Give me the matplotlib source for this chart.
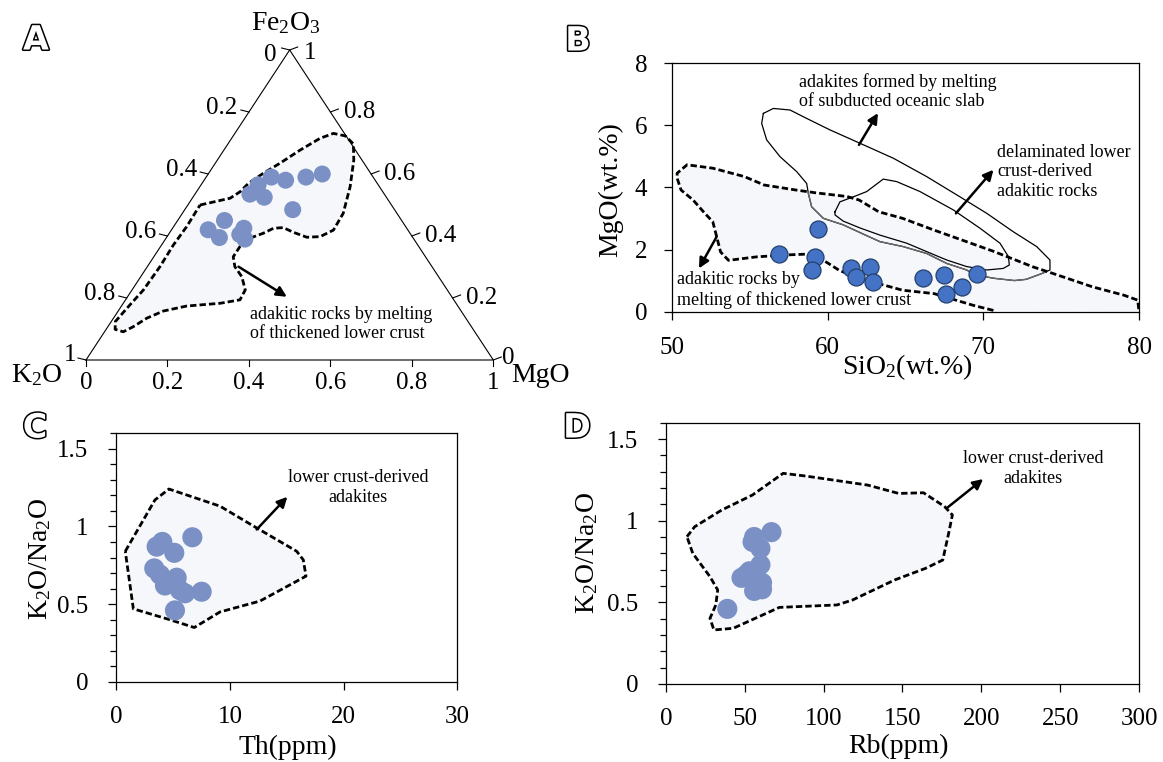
import numpy as np
import matplotlib
matplotlib.use("Agg")
import matplotlib.pyplot as plt
import matplotlib.patheffects as pe
from matplotlib.patches import Polygon

plt.rcParams["font.family"] = ["Liberation Serif", "DejaVu Serif"]
plt.rcParams["mathtext.fontset"] = "custom"
plt.rcParams["mathtext.rm"] = "Liberation Serif"
plt.rcParams["mathtext.it"] = "Liberation Serif:italic"
plt.rcParams["mathtext.default"] = "regular"

# ---------------- data ----------------
# (A) K2O - Fe2O3 - MgO ternary, sample proportions
tern_k2o = [0.120, 0.165, 0.220, 0.250, 0.295, 0.330, 0.300, 0.250, 0.435, 0.490, 0.475, 0.400, 0.420, 0.415]
tern_fe2o3 = [0.600, 0.590, 0.580, 0.590, 0.565, 0.535, 0.525, 0.485, 0.450, 0.420, 0.395, 0.425, 0.405, 0.390]
tern_mgo = [0.280, 0.245, 0.200, 0.160, 0.140, 0.135, 0.175, 0.265, 0.115, 0.090, 0.130, 0.175, 0.175, 0.195]

# field of adakitic rocks from thickened lower crust (Fe2O3, MgO fractions)
env_a_fe2o3 = [0.500, 0.522, 0.543, 0.570, 0.602, 0.635, 0.677, 0.715, 0.731, 0.723, 0.697,
               0.645, 0.559, 0.473, 0.419, 0.398, 0.396, 0.412, 0.427, 0.425, 0.409, 0.393,
               0.366, 0.333, 0.301, 0.269, 0.226, 0.194, 0.183, 0.174, 0.158, 0.135, 0.107,
               0.091, 0.099, 0.124, 0.167, 0.226, 0.301, 0.371, 0.430]
env_a_mgo = [0.030, 0.093, 0.107, 0.114, 0.134, 0.159, 0.187, 0.217, 0.242, 0.275, 0.308,
             0.335, 0.369, 0.395, 0.398, 0.376, 0.344, 0.303, 0.271, 0.248, 0.231, 0.206,
             0.195, 0.195, 0.215, 0.248, 0.278, 0.281, 0.238, 0.160, 0.111, 0.082, 0.062,
             0.046, 0.022, 0.010, 0.017, 0.028, 0.031, 0.029, 0.032]

# (B) SiO2 vs MgO (wt.%)
sio2 = [56.9, 59.4, 59.2, 59.0, 61.5, 62.7, 61.8, 62.9, 66.1, 67.5, 69.6, 68.6, 67.6]
mgo = [1.85, 2.67, 1.76, 1.34, 1.42, 1.46, 1.13, 0.97, 1.10, 1.20, 1.22, 0.81, 0.59]

# thickened lower crust field
env_b_sio2 = [70.65, 69.38, 66.84, 64.81, 63.28, 61.76, 60.74, 59.73, 58.71, 57.19, 55.41,
              53.63, 53.12, 52.87, 52.62, 52.11, 51.35, 50.58, 50.33, 50.33, 50.97, 52.62,
              54.65, 55.92, 57.95, 59.22, 61.25, 62.01, 63.28, 64.81, 66.84, 68.36, 70.65,
              73.19, 74.46, 77.00, 79.03, 79.92, 80.00]
env_b_mgo = [0.05, 0.21, 0.59, 0.70, 0.91, 1.13, 1.34, 1.66, 1.86, 1.83, 1.77,
             1.66, 1.93, 2.42, 2.90, 3.17, 3.60, 3.92, 4.30, 4.46, 4.73, 4.62,
             4.35, 4.08, 3.92, 3.83, 3.71, 3.60, 3.22, 3.01, 2.63, 2.36, 1.95,
             1.45, 1.24, 0.81, 0.54, 0.38, 0.00]

# subducted oceanic slab adakite field
slab_sio2 = [55.87, 56.51, 57.58, 58.65, 60.15, 62.08, 64.22, 66.36, 68.50, 70.22, 71.92, 73.43,
             74.28, 74.28, 73.78, 72.76, 72.00, 70.73, 69.46, 68.93, 67.65, 66.36, 64.86, 63.36,
             62.30, 61.00, 59.72, 58.97, 58.76, 58.65, 58.01, 56.94, 56.08, 55.76]
slab_mgo = [6.38, 6.54, 6.49, 6.22, 5.85, 5.42, 4.94, 4.35, 3.70, 3.17, 2.58, 2.10,
            1.67, 1.35, 1.24, 1.05, 1.01, 1.08, 1.19, 1.35, 1.56, 1.88, 2.10, 2.26,
            2.50, 2.80, 3.01, 3.38, 3.81, 4.13, 4.51, 4.99, 5.53, 6.06]

# delaminated lower crust-derived adakitic rocks field
delam_sio2 = [60.47, 60.79, 61.65, 62.51, 63.57, 64.43, 65.93, 68.07, 69.79, 71.07, 71.61,
              71.67, 71.28, 70.22, 68.93, 67.65, 66.36, 65.08, 63.36, 62.08, 61.00, 60.47]
delam_mgo = [3.22, 3.54, 3.70, 3.87, 4.27, 4.19, 3.87, 3.28, 2.69, 2.21, 1.78,
             1.51, 1.40, 1.35, 1.46, 1.67, 1.94, 2.21, 2.47, 2.70, 2.92, 3.12]

# (C, D) K2O/Na2O vs Th and Rb (ppm)
k2o_na2o = [0.90, 0.87, 0.83, 0.93, 0.73, 0.69, 0.65, 0.62, 0.67, 0.59, 0.57, 0.58, 0.46]
th = [4.05, 3.55, 5.10, 6.69, 3.34, 3.84, 4.34, 4.28, 5.31, 5.60, 6.04, 7.51, 5.16]
rb = [56.0, 55.0, 60.0, 67.0, 60.0, 53.0, 48.0, 61.0, 51.0, 58.0, 56.0, 61.0, 39.0]

env_c_th = [0.79, 3.40, 4.63, 9.12, 12.35, 15.87, 16.45, 16.69, 12.64, 9.12, 6.86, 4.72, 1.50]
env_c_ratio = [0.84, 1.17, 1.24, 1.13, 0.99, 0.84, 0.785, 0.68, 0.52, 0.45, 0.35, 0.40, 0.47]

env_d_rb = [13.4, 18.3, 35.4, 54.9, 74.4, 89.0, 128.0, 147.6, 163.4, 176.8, 181.7, 179.3, 175.6,
            164.6, 145.1, 118.3, 108.5, 72.0, 42.7, 30.5, 28.0, 31.7, 32.9, 28.0, 17.1]
env_d_ratio = [0.902, 0.963, 1.065, 1.157, 1.290, 1.273, 1.218, 1.167, 1.171, 1.086, 1.035, 0.922,
               0.759, 0.708, 0.637, 0.514, 0.484, 0.469, 0.341, 0.331, 0.402, 0.484, 0.576, 0.657, 0.80]

ternary_ticks = [0, 0.2, 0.4, 0.6, 0.8, 1]

# ---------------- styles ----------------
FILL = "#F5F7FB"
PALE_DOT = "#7B90C4"
DOT_B = "#4472C4"
DOT_B_EDGE = "#23406F"
DASH = dict(color="black", lw=2.0, linestyle=(0, (2.3, 1.1)), solid_capstyle="butt")
ARROW = dict(arrowstyle="-|>", color="black", lw=1.8, mutation_scale=15, shrinkA=0, shrinkB=0)
TICK_FS = 18
LABEL_FS = 20
NOTE_FS = 13

W, H = 1163, 762
fig = plt.figure(figsize=(W / 100, H / 100), dpi=100)


def add_axes_px(left, top, right, bottom):
    return fig.add_axes([left / W, 1 - bottom / H, (right - left) / W, (bottom - top) / H])


def panel_letter(x, y, s):
    fig.text(x / W, 1 - y / H, s, ha="center", va="center", fontsize=24,
             family="DejaVu Sans", weight="bold", color="white",
             path_effects=[pe.withStroke(linewidth=2.2, foreground="black")])


# ---------------- (A) ternary ----------------
axA = add_axes_px(0, 0, 560, 400)
axA.set_axis_off()
x0, x1, base, apex = 86.0, 493.3, 360.0, 50.0
sx, sy = x1 - x0, base - apex
axA.set_xlim(-x0 / sx, (560 - x0) / sx)
axA.set_ylim((base - 400) / sy, base / sy)


def tern_xy(k, f, m):
    k, f, m = (np.asarray(v, dtype=float) for v in (k, f, m))
    tot = k + f + m
    f, m = f / tot, m / tot
    return m + 0.5 * f, f


axA.plot([0, 1, 0.5, 0], [0, 0, 1, 0], color="black", lw=0.8, zorder=2)

ea_f = np.asarray(env_a_fe2o3)
ea_m = np.asarray(env_a_mgo)
ex, ey = tern_xy(1 - ea_f - ea_m, ea_f, ea_m)
axA.fill(ex, ey, facecolor=FILL, edgecolor="none", zorder=1)
axA.plot(np.r_[ex, ex[0]], np.r_[ey, ey[0]], zorder=3, **DASH)

px, py = tern_xy(tern_k2o, tern_fe2o3, tern_mgo)
axA.scatter(px, py, s=150, color=PALE_DOT, edgecolors="none", zorder=4)

for t in ternary_ticks:
    lab = f"{t:g}"
    # bottom edge: MgO
    bx, by = tern_xy(1 - t, 0, t)
    axA.plot([bx, bx], [by, by - 6 / sy], color="black", lw=0.8)
    axA.annotate(lab, (bx, by), xytext=(0, -23), textcoords="offset pixels",
                 ha="center", va="center", fontsize=TICK_FS)
    # left edge: K2O
    lx, ly = tern_xy(t, 1 - t, 0)
    axA.plot([lx, lx - 8 / sx], [ly, ly + 2 / sy], color="black", lw=0.8)
    off = {0: (-19, -5), 1: (-16, 5)}.get(t, (-27, 4))
    axA.annotate(lab, (lx, ly), xytext=off, textcoords="offset pixels",
                 ha="center", va="center", fontsize=TICK_FS)
    # right edge: Fe2O3
    rx, ry = tern_xy(0, t, 1 - t)
    axA.plot([rx, rx + 8 / sx], [ry, ry + 3 / sy], color="black", lw=0.8)
    off = {1: (20, -3), 0: (15, 2)}.get(t, (29, 0))
    axA.annotate(lab, (rx, ry), xytext=off, textcoords="offset pixels",
                 ha="center", va="center", fontsize=TICK_FS)

axA.annotate("Fe$_2$O$_3$", tern_xy(0, 1, 0), xytext=(-4, 27), textcoords="offset pixels",
             ha="center", va="center", fontsize=LABEL_FS)
axA.annotate("K$_2$O", tern_xy(1, 0, 0), xytext=(-49, -15), textcoords="offset pixels",
             ha="center", va="center", fontsize=LABEL_FS)
axA.annotate("MgO", tern_xy(0, 0, 1), xytext=(47, -15), textcoords="offset pixels",
             ha="center", va="center", fontsize=LABEL_FS)

axA.annotate("", xy=tern_xy(0.405, 0.204, 0.391), xytext=tern_xy(0.475, 0.301, 0.224),
             arrowprops=ARROW, zorder=5)
tx, ty = tern_xy(0.539, 0.116, 0.345)
axA.text(tx, ty, "adakitic rocks by melting\nof thickened lower crust", ha="left", va="center",
         fontsize=NOTE_FS)


def style_axes(ax, ypad=14, xpad=11):
    for sp in ax.spines.values():
        sp.set_linewidth(0.9)
    ax.tick_params(which="major", direction="out", length=6, width=0.9, labelsize=TICK_FS)
    ax.tick_params(axis="y", which="both", pad=ypad)
    ax.tick_params(axis="x", which="both", pad=xpad)
    ax.tick_params(which="minor", direction="out", length=4.5, width=0.9)


# ---------------- (B) SiO2 - MgO ----------------
axB = add_axes_px(672, 63, 1139, 312)
axB.set_xlim(50, 80)
axB.set_ylim(0, 8)
axB.set_xticks([50, 60, 70, 80])
axB.set_yticks([0, 2, 4, 6, 8])
style_axes(axB, ypad=12, xpad=12)
axB.fill(env_b_sio2, env_b_mgo, facecolor=FILL, edgecolor="none", zorder=1)
slab_x = slab_sio2 + slab_sio2[:1]
slab_y = slab_mgo + slab_mgo[:1]
axB.plot(slab_x, slab_y, color="black", lw=0.9, zorder=2)
# the slab outline reads grey where it runs through the thickened-crust field
env_b_patch = Polygon(np.column_stack([env_b_sio2, env_b_mgo]), closed=True,
                      transform=axB.transData, facecolor="none", edgecolor="none")
axB.add_patch(env_b_patch)
grey_part, = axB.plot(slab_x, slab_y, color="#6A6A6A", lw=1.0, zorder=2.1)
grey_part.set_clip_path(env_b_patch)
axB.plot(delam_sio2 + delam_sio2[:1], delam_mgo + delam_mgo[:1], color="black", lw=0.9, zorder=2.2)
axB.plot(env_b_sio2, env_b_mgo, zorder=3, clip_on=False, **DASH)
axB.scatter(sio2, mgo, s=150, color=DOT_B, edgecolors=DOT_B_EDGE, linewidths=0.9, zorder=5)
axB.set_xlabel("SiO$_2$(wt.%)", fontsize=LABEL_FS)
axB.set_ylabel("MgO(wt.%)", fontsize=LABEL_FS)
axB.xaxis.label.set_verticalalignment("center")
axB.yaxis.label.set_verticalalignment("center")
axB.xaxis.set_label_coords(0.505, -0.221)
axB.yaxis.set_label_coords(-0.131, 0.49)

axB.text(58.16, 7.08, "adakites formed by melting\nof subducted oceanic slab", ha="left", va="center",
         fontsize=NOTE_FS)
axB.annotate("", xy=(63.23, 6.39), xytext=(62.01, 5.37), arrowprops=ARROW, zorder=6)
axB.text(70.88, 4.50, "delaminated lower\ncrust-derived\nadakitic rocks", ha="left", va="center",
         fontsize=NOTE_FS)
axB.annotate("", xy=(70.65, 4.57), xytext=(68.24, 3.17), arrowprops=ARROW, zorder=6)
axB.text(50.32, 0.707, "adakitic rocks by\nmelting of thickened lower crust", ha="left", va="center",
         fontsize=NOTE_FS, zorder=6)
axB.annotate("", xy=(51.73, 1.40), xytext=(52.87, 2.42), arrowprops=ARROW, zorder=6)


# ---------------- (C) Th - K2O/Na2O ----------------
def ratio_axes(ax):
    ax.set_ylim(0, 1.6)
    ax.set_yticks([0, 0.5, 1, 1.5])
    ax.set_yticklabels(["0", "0.5", "1", "1.5"])
    ax.set_yticks(np.arange(0, 1.61, 0.1), minor=True)
    style_axes(ax)
    ax.set_ylabel("K$_2$O/Na$_2$O", fontsize=LABEL_FS)
    ax.xaxis.label.set_verticalalignment("center")
    ax.yaxis.label.set_verticalalignment("center")


axC = add_axes_px(116.3, 433, 457.3, 682)
axC.set_xlim(0, 30)
axC.set_xticks([0, 10, 20, 30])
ratio_axes(axC)
axC.fill(env_c_th, env_c_ratio, facecolor=FILL, edgecolor="none", zorder=1)
axC.plot(env_c_th + env_c_th[:1], env_c_ratio + env_c_ratio[:1], zorder=3, **DASH)
axC.scatter(th, k2o_na2o, s=210, color=PALE_DOT, edgecolors="none", zorder=5)
axC.set_xlabel("Th(ppm)", fontsize=LABEL_FS)
axC.xaxis.set_label_coords(0.503, -0.261)
axC.yaxis.set_label_coords(-0.224, 0.494)
axC.text(21.3, 1.25, "lower crust-derived\nadakites", ha="center", va="center", fontsize=NOTE_FS)
axC.annotate("", xy=(15.05, 1.19), xytext=(12.35, 0.98), arrowprops=ARROW, zorder=6)

# ---------------- (D) Rb - K2O/Na2O ----------------
axD = add_axes_px(665.8, 422.7, 1139, 684)
axD.set_xlim(0, 300)
axD.set_xticks([0, 50, 100, 150, 200, 250, 300])
ratio_axes(axD)
axD.fill(env_d_rb, env_d_ratio, facecolor=FILL, edgecolor="none", zorder=1)
axD.plot(env_d_rb + env_d_rb[:1], env_d_ratio + env_d_ratio[:1], zorder=3, **DASH)
axD.scatter(rb, k2o_na2o, s=210, color=PALE_DOT, edgecolors="none", zorder=5)
axD.set_xlabel("Rb(ppm)", fontsize=LABEL_FS)
axD.xaxis.set_label_coords(0.492, -0.24)
axD.yaxis.set_label_coords(-0.166, 0.50)
axD.text(233, 1.32, "lower crust-derived\nadakites", ha="center", va="center", fontsize=NOTE_FS)
axD.annotate("", xy=(201.2, 1.255), xytext=(178.0, 1.076), arrowprops=ARROW, zorder=6)

panel_letter(36, 40, "A")
panel_letter(578, 41, "B")
panel_letter(35, 428, "C")
panel_letter(577, 428, "D")

fig.savefig("out.png", dpi=100)
